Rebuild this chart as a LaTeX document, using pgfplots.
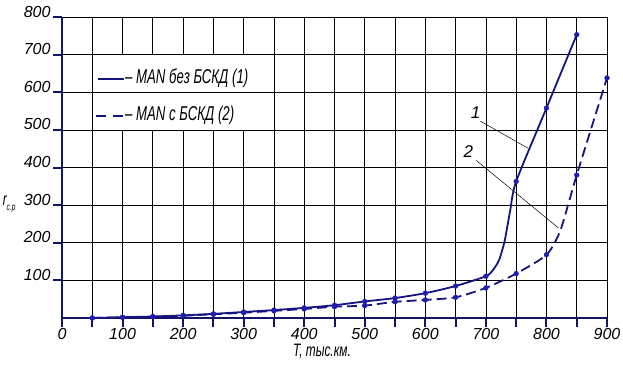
\documentclass[border=0pt]{standalone}
\usepackage{fontspec}
\setmainfont{Liberation Sans}
\newfontfamily\gostl{Liberation Sans}[FakeStretch=0.66]
\newfontfamily\gostt{Liberation Sans}[FakeStretch=1.0]
\usepackage{pgfplots}
\pgfplotsset{compat=1.18}
\definecolor{lineblue}{RGB}{20,20,130}
\definecolor{markblue}{RGB}{30,30,180}
\definecolor{axisblue}{RGB}{20,20,100}
\begin{document}
\begin{tikzpicture}
\begin{axis}[
  scale only axis, width=545pt, height=301pt,
  xmin=0, xmax=900, ymin=0, ymax=800,
  axis x line=bottom, axis y line=left,
  axis line style={axisblue, line width=2.2pt, -},
  xtick={0,100,...,900}, minor xtick={50,150,...,850},
  ytick={100,200,...,800},
  grid=both,
  major grid style={black, line width=0.7pt},
  minor grid style={black, line width=0.7pt},
  tick align=outside, major tick length=9pt, minor tick length=9pt,
  tick style={axisblue, line width=2pt},
  /pgf/number format/assume math mode=true,
  ticklabel style={font=\gostt\itshape\fontsize{16}{16}\selectfont},
  xticklabel style={yshift=2pt},
  yticklabel style={anchor=base east, xshift=1pt},
  xlabel={T, тыс.км.},
  xlabel style={at={(axis description cs:0.477,-0.11)}, anchor=center, font=\gostl\itshape\fontsize{18}{18}\selectfont},
  ylabel={r\raisebox{-0.45ex}{\fontsize{10}{10}\selectfont с.р}},
  ylabel style={at={(axis description cs:-0.097,0.378)}, anchor=center, rotate=-90, font=\gostl\itshape\fontsize{18}{18}\selectfont},
  clip=false,
]
% legend box
\draw[black, line width=0.7pt, fill=white] (axis cs:50,500) rectangle (axis cs:350,700);
\draw[black, line width=0.7pt] (axis cs:50,600) -- (axis cs:350,600);
\draw[lineblue, line width=2pt] (axis cs:59,634) -- (axis cs:102,634);
\draw[lineblue, line width=2pt, dash pattern=on 10pt off 7pt] (axis cs:56,536) -- (axis cs:100,536);
\node[anchor=west, font=\gostl\itshape\fontsize{20}{20}\selectfont, inner sep=0pt] at (axis cs:104,636) {– MAN без БСКД (1)};
\node[anchor=west, font=\gostl\itshape\fontsize{20}{20}\selectfont, inner sep=0pt] at (axis cs:104,540) {– MAN с БСКД (2)};
% leader lines
\draw[black, line width=0.5pt] (axis cs:691,523) -- (axis cs:770,451);
\node[font=\gostt\itshape\fontsize{17}{17}\selectfont] at (axis cs:683,545) {1};
\draw[black, line width=0.5pt] (axis cs:684,419) -- (axis cs:820,239);
\node[font=\gostt\itshape\fontsize{17}{17}\selectfont] at (axis cs:671,442) {2};
% series 1
\addplot[lineblue, line width=1.8pt, smooth, tension=0.4] coordinates {
(50,0)(100,2)(150,4)(200,7)(250,11)(300,16)(350,21)(400,27)(450,34)(500,44)(550,53)(600,66)(650,85)(700,111)(712,128)(722,155)(731,205)(740,285)(750,363)(800,558)(850,753)};
\addplot[only marks, mark=*, mark size=2.4pt, markblue] coordinates {
(50,0)(100,2)(150,4)(200,7)(250,11)(300,16)(350,21)(400,27)(450,34)(500,44)(550,53)(600,66)(650,85)(700,111)(750,363)(800,558)(850,753)};
% series 2
\addplot[lineblue, line width=1.8pt, dash pattern=on 10pt off 5pt, smooth, tension=0.4] coordinates {
(50,0)(100,2)(150,3)(200,6)(250,10)(300,14)(350,19)(400,24)(450,30)(500,33)(550,43)(600,48)(650,55)(700,80)(750,118)(800,168)(823,233)(850,380)(900,638)};
\addplot[only marks, mark=*, mark size=2.4pt, markblue] coordinates {
(50,0)(100,2)(150,3)(200,6)(250,10)(300,14)(350,19)(400,24)(450,30)(500,33)(550,43)(600,48)(650,55)(700,80)(750,118)(800,168)(850,380)(900,638)};
\end{axis}
\pgfresetboundingbox
\path ([shift={(-62pt,-47pt)}]current axis.south west) rectangle ([shift={(16pt,17pt)}]current axis.north east);
\end{tikzpicture}
\end{document}
